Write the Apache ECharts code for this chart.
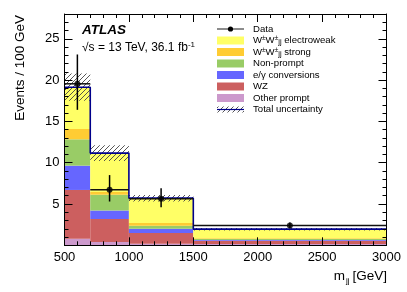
<!DOCTYPE html>
<html><head><meta charset="utf-8">
<script src="https://cdn.jsdelivr.net/npm/echarts@6/dist/echarts.min.js"></script>
<style>html,body{margin:0;padding:0;background:#fff}#c{width:407px;height:292px}</style>
</head><body><div id="c"></div>
<script>
// ---- data (events / 100 GeV) ----
const binEdges = [500, 700, 1000, 1500, 3000];
const otherPrompt = [0.8, 0.4, 0.2, 0.15];
const wz = [5.9, 2.77, 1.28, 0.4];
const conversions = [2.94, 1.04, 0.52, 0.1];
const nonPrompt = [3.19, 1.9, 0.36, 0.1];
const wwStrong = [1.25, 0.33, 0.33, 0.1];
const wwEW = [5.05, 4.72, 3.02, 1.11];
const dataCenters = [600, 850, 1250, 2250];
const dataValues = [19.55, 6.72, 5.63, 2.4];
const dataErrLow = [16.4, 5.3, 4.6, 2.05];
const dataErrHigh = [23.1, 8.5, 6.9, 2.75];
const uncLow = [17.5, 10.2, 5.3, 1.8];
const uncHigh = [20.8, 12.1, 6.1, 2.1];
const xTicks = [500, 1000, 1500, 2000, 2500, 3000];
const yTicks = [5, 10, 15, 20, 25];

const components = [
  {name: 'Other prompt', vals: otherPrompt, color: '#cc99cc'},
  {name: 'WZ', vals: wz, color: '#cc5f5f'},
  {name: 'e/γ conversions', vals: conversions, color: '#6666ff'},
  {name: 'Non-prompt', vals: nonPrompt, color: '#99cc66'},
  {name: 'W±W±jj strong', vals: wwStrong, color: '#ffcc33'},
  {name: 'W±W±jj electroweak', vals: wwEW, color: '#ffff66'}
];

// hatch pattern
function makeHatch(color) {
  const s = 5, cv = document.createElement('canvas');
  cv.width = s; cv.height = s;
  const g = cv.getContext('2d');
  g.strokeStyle = color; g.lineWidth = 0.9;
  g.beginPath();
  g.moveTo(0, s); g.lineTo(s, 0);
  g.moveTo(-1, 1); g.lineTo(1, -1);
  g.moveTo(s - 1, s + 1); g.lineTo(s + 1, s - 1);
  g.stroke();
  return cv;
}
const hatch = {image: makeHatch('#444'), repeat: 'repeat'};

function rectRender(fill) {
  return function (params, api) {
    const p0 = api.coord([api.value(0), api.value(2)]);
    const p1 = api.coord([api.value(1), api.value(3)]);
    return {type: 'rect', shape: {x: p0[0], y: p1[1], width: p1[0] - p0[0], height: p0[1] - p1[1]},
      style: {fill: fill, stroke: null}};
  };
}

const series = [];
const cum = [0, 0, 0, 0];
components.forEach(c => {
  const d = c.vals.map((v, i) => {
    const r = [binEdges[i], binEdges[i + 1], cum[i], cum[i] + v];
    cum[i] += v; return r;
  });
  series.push({type: 'custom', name: c.name, renderItem: rectRender(c.color), data: d,
    encode: {x: [0, 1], y: [2, 3]}, z: 2, silent: true});
});
// uncertainty hatch
series.push({type: 'custom', renderItem: rectRender(hatch),
  data: uncLow.map((l, i) => [binEdges[i], binEdges[i + 1], l, uncHigh[i]]),
  encode: {x: [0, 1], y: [2, 3]}, z: 3, silent: true});
// total step line
const stepPts = [];
cum.forEach((t, i) => { stepPts.push([binEdges[i], t]); stepPts.push([binEdges[i + 1], t]); });
series.push({type: 'line', data: stepPts, showSymbol: false, symbol: 'none',
  lineStyle: {color: '#00008b', width: 1.6}, z: 4, silent: true, animation: false});
// data error bars
series.push({type: 'custom', z: 5, silent: true,
  data: dataCenters.map((x, i) => [x, dataValues[i], dataErrLow[i], dataErrHigh[i], binEdges[i], binEdges[i + 1]]),
  encode: {x: 0, y: 1},
  renderItem: function (params, api) {
    const lo = api.coord([api.value(0), api.value(2)]);
    const hi = api.coord([api.value(0), api.value(3)]);
    const l = api.coord([api.value(4), api.value(1)]);
    const r = api.coord([api.value(5), api.value(1)]);
    return {type: 'group', children: [
      {type: 'line', shape: {x1: lo[0], y1: lo[1], x2: hi[0], y2: hi[1]}, style: {stroke: '#000', lineWidth: 1.5}},
      {type: 'line', shape: {x1: l[0], y1: l[1], x2: r[0], y2: r[1]}, style: {stroke: '#111', lineWidth: 1.5}}
    ]};
  }});
series.push({type: 'scatter', data: dataCenters.map((x, i) => [x, dataValues[i]]), symbol: 'circle',
  symbolSize: 6, itemStyle: {color: '#000'}, z: 6, silent: true});

const font = 'Liberation Sans, Arial, sans-serif';
const axisBase = {
  axisLine: {show: true, onZero: false, lineStyle: {color: '#000', width: 1}},
  axisTick: {show: true, inside: true, length: 8, lineStyle: {color: '#000', width: 1}},
  minorTick: {show: true, splitNumber: 5, length: 4, lineStyle: {color: '#000', width: 1}},
  splitLine: {show: false}, z: 10
};

// legend graphics
const ww = '{n|W}{p|±}{n|W}{p|±}{b|jj}';
const legendItems = [
  {type: 'data', label: 'Data'},
  {type: 'fill', label: ww + '{n| electroweak}', color: '#ffff66'},
  {type: 'fill', label: ww + '{n| strong}', color: '#ffcc33'},
  {type: 'fill', label: '{n|Non-prompt}', color: '#99cc66'},
  {type: 'fill', label: '{n|e/γ conversions}', color: '#6666ff'},
  {type: 'fill', label: '{n|WZ}', color: '#cc5f5f'},
  {type: 'fill', label: '{n|Other prompt}', color: '#cc99cc'},
  {type: 'unc', label: '{n|Total uncertainty}'}
];
const legRich = {
  n: {fontSize: 9.6, fontFamily: font, color: '#000', lineHeight: 11, verticalAlign: 'middle'},
  p: {fontSize: 6.5, fontFamily: font, color: '#000', lineHeight: 11, verticalAlign: 'top'},
  b: {fontSize: 7.5, fontFamily: font, color: '#000', lineHeight: 11, verticalAlign: 'bottom', padding: [2, 0, 0, 0]}
};
const graphics = [];
const lx = 217, lw = 27, ly0 = 29, ldy = 11.5;
legendItems.forEach((it, k) => {
  const y = ly0 + k * ldy;
  if (it.type === 'data') {
    graphics.push({type: 'line', shape: {x1: lx, y1: y, x2: lx + lw, y2: y}, style: {stroke: '#666', lineWidth: 1.5}});
    graphics.push({type: 'circle', shape: {cx: lx + lw / 2, cy: y, r: 2.6}, style: {fill: '#000'}});
    graphics.push({type: 'text', x: 253, y: y, style: {text: it.label, fill: '#000', font: '9.6px ' + font, align: 'left', verticalAlign: 'middle'}});
    return;
  } else if (it.type === 'fill') {
    graphics.push({type: 'rect', shape: {x: lx, y: y - 4, width: lw, height: 8}, style: {fill: it.color}});
  } else {
    graphics.push({type: 'rect', shape: {x: lx, y: y - 3, width: lw, height: 6}, style: {fill: hatch}});
    graphics.push({type: 'line', shape: {x1: lx, y1: y, x2: lx + lw, y2: y}, style: {stroke: '#00008b', lineWidth: 1.2}});
  }
  graphics.push({type: 'text', x: 253, y: y, style: {text: it.label, rich: legRich, align: 'left', verticalAlign: 'middle'}});
});
// ATLAS labels
graphics.push({type: 'text', x: 82, y: 30, style: {text: 'ATLAS', fill: '#000', font: 'italic bold 13.5px ' + font, verticalAlign: 'middle'}});
graphics.push({type: 'text', x: 82, y: 48, style: {text: '{a|√s = 13 TeV, 36.1 fb}{s|-1}', verticalAlign: 'middle',
  rich: {a: {fontSize: 12, fontFamily: font, color: '#000', lineHeight: 14, verticalAlign: 'middle'},
         s: {fontSize: 8, fontFamily: font, color: '#000', lineHeight: 14, verticalAlign: 'top'}}}});
// axis titles
graphics.push({type: 'text', x: 20, y: 15, rotation: Math.PI / 2,
  style: {text: 'Events / 100 GeV', fill: '#000', font: '13.5px ' + font, align: 'right', verticalAlign: 'middle'}});
graphics.push({type: 'text', x: 387, y: 276, style: {text: '[GeV]', fill: '#000', font: '13.5px ' + font, align: 'right', verticalAlign: 'middle'}});
graphics.push({type: 'text', x: 349.5, y: 281, style: {text: 'jj', fill: '#000', font: '8px ' + font, align: 'right', verticalAlign: 'middle'}});
graphics.push({type: 'text', x: 345, y: 276, style: {text: 'm', fill: '#000', font: '13.5px ' + font, align: 'right', verticalAlign: 'middle'}});

const chart = echarts.init(document.getElementById('c'), null, {renderer: 'canvas'});
chart.setOption({
  animation: false,
  backgroundColor: '#fff',
  grid: {left: 64.5, right: 20.5, top: 14, bottom: 46.7, containLabel: false},
  xAxis: [
    Object.assign({type: 'value', min: xTicks[0], max: xTicks[xTicks.length - 1], interval: 500, position: 'bottom',
      axisLabel: {show: true, color: '#000', fontSize: 13, fontFamily: font, margin: 6,
        showMinLabel: true, showMaxLabel: true, formatter: v => String(v)}}, axisBase),
    Object.assign({type: 'value', min: xTicks[0], max: xTicks[xTicks.length - 1], interval: 500, position: 'top',
      axisLabel: {show: false}}, axisBase)
  ],
  yAxis: [
    Object.assign({type: 'value', min: 0, max: 28, interval: 5, position: 'left',
      axisLabel: {show: true, color: '#000', fontSize: 13, fontFamily: font, margin: 5,
        showMinLabel: false, showMaxLabel: false,
        formatter: v => (yTicks.indexOf(v) >= 0 ? String(v) : '')}}, axisBase),
    Object.assign({type: 'value', min: 0, max: 28, interval: 5, position: 'right',
      axisLabel: {show: false}}, axisBase)
  ],
  series: series,
  graphic: graphics
});
</script>
</body></html>
